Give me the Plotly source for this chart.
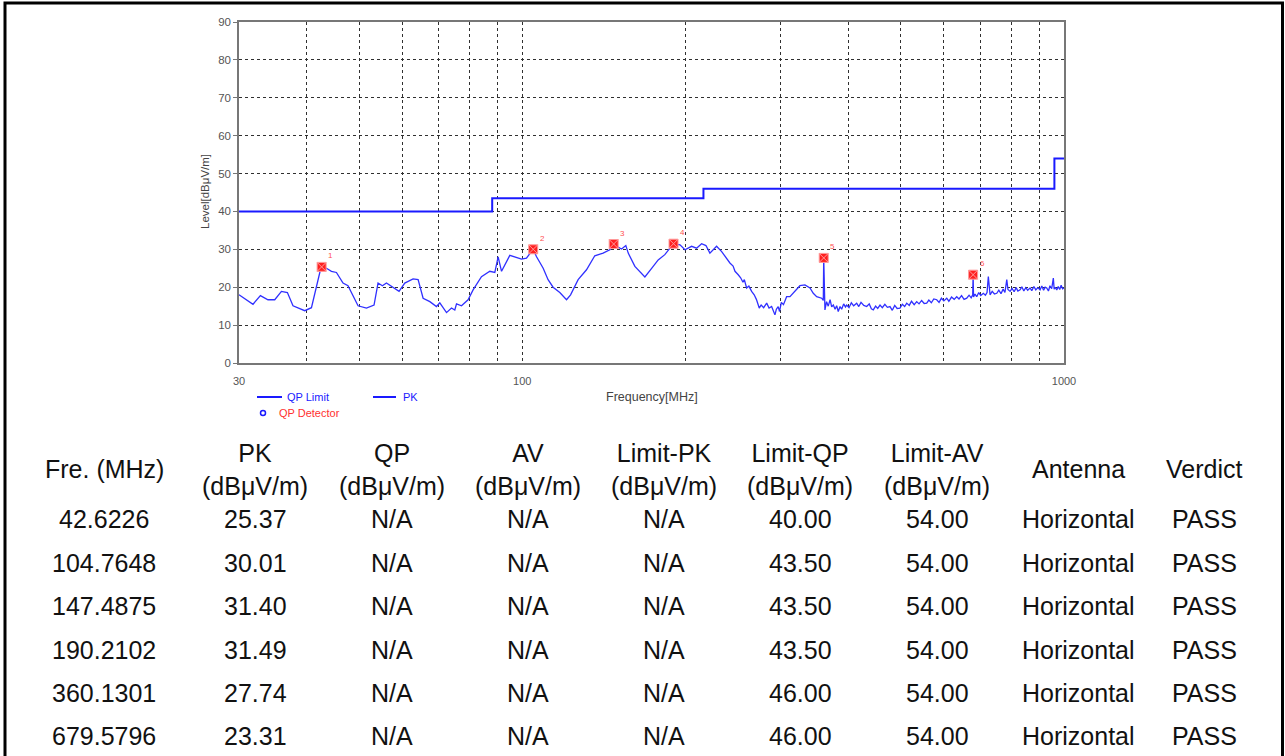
import math
import plotly.graph_objects as go

# ---------------- data ----------------
limit_freq = [30, 88, 216, 960, 1000]
limit_level = [40.0, 43.5, 46.0, 54.0, 54.0]

pk_freq = [30.0, 30.96, 31.84, 32.86, 33.93, 34.92, 35.93, 36.85, 37.74, 39.67, 40.82, 42.41, 42.62,
           43.51, 44.44, 45.39, 46.68, 47.68, 49.76, 51.57, 53.26, 54.17, 55.19, 56.14, 57.74, 59.23,
           60.69, 62.87, 64.23, 65.61, 67.51, 69.44, 70.43, 72.47, 74.02, 75.07, 75.62, 77.24, 79.43,
           81.14, 84.08, 87.12, 88.99, 90.25, 91.57, 94.85, 99.68, 101.8, 104.76, 106.2, 109.3, 111.6,
           114.0, 117.3, 120.7, 122.8, 126.8, 131.4, 136.1, 141.0, 145.1, 147.49, 149.3, 152.5, 155.3,
           156.9, 161.4, 164.9, 168.4, 173.3, 178.2, 183.3, 186.5, 190.21, 195.5, 199.7, 205.4, 209.8,
           214.3, 218.3, 222.0, 228.4, 233.4, 241.7, 245.0, 247.0, 250.4, 253.0, 255.5, 257.0, 259.5,
           262.0, 265.1, 268.0, 270.5, 273.8, 276.0, 279.0, 282.6, 285.5, 288.6, 290.5, 292.7, 294.5,
           296.8, 298.5, 300.8, 303.5, 307.6, 312.0, 318.7, 325.5, 332.5, 339.7, 344.5, 349.5, 357.0,
           359.5, 360.13, 360.8, 362.0, 364.5, 367.1, 370.0, 372.5, 375.1, 378.0, 380.5, 383.1, 386.0,
           388.7, 392.0, 395.0, 397.1, 401.0, 405.0, 409.0, 414.3, 418.0, 422.0, 427.0, 432.3, 437.0,
           441.0, 444.6, 449.0, 453.0, 457.5, 462.0, 467.0, 472.0, 477.3, 482.0, 487.0, 492.0, 498.0,
           503.0, 508.0, 512.5, 518.0, 523.0, 529.0, 534.7, 540.0, 546.0, 552.0, 557.9, 563.0, 569.0,
           575.0, 582.2, 588.0, 594.0, 600.0, 607.5, 613.0, 620.0, 627.0, 633.8, 640.0, 647.0, 654.0,
           661.4, 668.0, 674.0, 678.4, 679.58, 680.8, 685.0, 690.1, 696.0, 702.0, 709.8, 716.0, 721.0,
           725.0, 728.0, 730.3, 737.0, 744.0, 751.4, 758.0, 765.0, 772.0, 778.0, 784.1, 788.0, 795.2,
           802.0, 809.0, 816.0, 822.0, 829.7, 836.0, 843.0, 850.0, 857.0, 865.7, 872.0, 880.0, 887.0,
           895.0, 903.2, 910.0, 917.0, 923.0, 929.2, 936.0, 942.0, 949.0, 955.7, 959.0, 963.0, 969.7,
           976.0, 982.0, 988.0, 994.0, 1000.0]
pk_level = [18.0, 16.7, 15.5, 17.8, 16.7, 16.7, 18.9, 18.6, 15.1, 13.8, 14.6, 24.6, 25.37,
            25.0, 24.2, 23.9, 21.1, 20.4, 15.1, 14.5, 15.3, 21.1, 20.4, 21.1, 20.0, 18.9,
            21.1, 22.2, 22.0, 17.1, 16.2, 14.9, 15.9, 13.3, 14.5, 14.0, 15.6, 15.1, 16.7,
            19.3, 22.8, 24.2, 23.9, 28.0, 24.2, 28.4, 27.4, 27.7, 30.01, 28.1, 25.0, 22.0,
            20.0, 18.6, 16.7, 18.0, 22.0, 24.6, 28.3, 29.0, 29.9, 31.40, 30.8, 30.1, 31.0,
            29.0, 25.5, 24.2, 22.7, 25.0, 27.2, 28.6, 30.0, 31.49, 31.2, 29.9, 30.8, 30.3,
            31.5, 31.0, 29.0, 30.8, 29.4, 26.4, 25.6, 24.2, 23.3, 22.5, 21.3, 22.0, 19.8,
            20.3, 18.9, 18.0, 16.8, 14.5, 15.3, 14.6, 15.8, 14.5, 14.9, 13.8, 12.7, 14.2,
            14.9, 13.6, 16.0, 15.4, 17.5, 17.5, 18.9, 20.4, 20.6, 19.8, 18.4, 17.5, 17.1,
            16.5, 27.74, 16.0, 14.0, 16.2, 15.0, 16.7, 14.8, 15.3, 14.2, 15.1, 13.6, 14.9,
            14.2, 15.6, 14.8, 15.3, 14.6, 15.9, 15.1, 15.8, 14.9, 16.0, 15.2, 14.9, 15.6,
            14.3, 14.0, 15.0, 14.4, 15.3, 14.6, 15.5, 14.7, 14.9, 13.9, 15.2, 14.4, 14.5,
            15.5, 14.9, 15.8, 15.2, 16.3, 15.4, 16.2, 15.6, 16.5, 15.7, 15.8, 16.6, 15.9,
            16.9, 16.7, 16.0, 17.1, 16.4, 17.1, 16.3, 17.4, 16.8, 17.5, 16.9, 17.8, 16.8,
            17.1, 17.9, 17.2, 18.0, 23.31, 17.4, 18.2, 17.5, 18.6, 17.8, 18.4, 17.9, 18.6,
            22.8, 18.5, 18.0, 18.9, 18.2, 18.4, 19.2, 18.3, 19.5, 18.6, 22.0, 19.4, 18.9,
            19.7, 18.8, 19.9, 19.0, 19.3, 20.1, 19.0, 19.9, 19.2, 19.8, 19.1, 20.2, 19.3,
            19.9, 19.3, 20.3, 19.2, 20.0, 19.8, 19.0, 20.4, 19.6, 22.4, 19.5, 20.0, 19.3,
            20.2, 19.4, 20.5, 19.6, 19.8]

mk_freq = [42.6226, 104.7648, 147.4875, 190.2102, 360.1301, 679.5796]
mk_level = [25.37, 30.01, 31.40, 31.49, 27.74, 23.31]
mk_labels = ["1", "2", "3", "4", "5", "6"]

x_tickvals = [30, 40, 50, 60, 70, 80, 90, 100, 200, 300, 400, 500, 600, 700, 800, 900, 1000]
x_ticktext = ["30", "", "", "", "", "", "", "100", "", "", "", "", "", "", "", "", "1000"]

table_header = ["Fre. (MHz)", "PK<br>(dBμV/m)", "QP<br>(dBμV/m)", "AV<br>(dBμV/m)",
                "Limit-PK<br>(dBμV/m)", "Limit-QP<br>(dBμV/m)", "Limit-AV<br>(dBμV/m)",
                "Antenna", "Verdict"]
col_freq = ["42.6226", "104.7648", "147.4875", "190.2102", "360.1301", "679.5796"]
col_pk = ["25.37", "30.01", "31.40", "31.49", "27.74", "23.31"]
col_qp = ["N/A"] * 6
col_av = ["N/A"] * 6
col_lim_pk = ["N/A"] * 6
col_lim_qp = ["40.00", "43.50", "43.50", "43.50", "46.00", "46.00"]
col_lim_av = ["54.00"] * 6
col_antenna = ["Horizontal"] * 6
col_verdict = ["PASS"] * 6
table_columns = [col_freq, col_pk, col_qp, col_av, col_lim_pk, col_lim_qp, col_lim_av,
                 col_antenna, col_verdict]

# ---------------- layout geometry (pixels) ----------------
W, H = 1285, 756
PL, PR, PT, PB = 239, 1064, 22, 363


def px(x):
    return (x - PL) / (PR - PL)


def py(y):
    return (PB - y) / (PB - PT)


FONT = "Liberation Sans"
fig = go.Figure()

fig.add_trace(go.Scatter(x=limit_freq, y=limit_level, mode="lines", line_shape="hv",
                         line=dict(color="#1a1aff", width=2), showlegend=False))
fig.add_trace(go.Scatter(x=pk_freq, y=pk_level, mode="lines",
                         line=dict(color="#3030ff", width=1.3), showlegend=False))
fig.add_trace(go.Scatter(x=mk_freq, y=mk_level, mode="markers",
                         marker=dict(symbol="square-x", size=9, color="#ff2020",
                                     line=dict(color="#ff9a9a", width=1)),
                         showlegend=False))

annotations = []
for f, v, t in zip(mk_freq, mk_level, mk_labels):
    # annotation x on a log axis is given in log10 units
    annotations.append(dict(x=math.log10(f), y=v, xref="x", yref="y", text=t, showarrow=False,
                            xanchor="center", yanchor="middle",
                            xshift=9, yshift=11, font=dict(size=8, color="#ff5050", family=FONT)))

# axis titles
annotations.append(dict(x=px(652), y=py(397), xref="paper", yref="paper", text="Frequency[MHz]",
                        xanchor="center", yanchor="middle", showarrow=False,
                        font=dict(size=12.5, color="#444", family=FONT)))
annotations.append(dict(x=px(205), y=py(192), xref="paper", yref="paper", text="Level[dBμV/m]",
                        xanchor="center", yanchor="middle", textangle=-90, showarrow=False,
                        font=dict(size=11.5, color="#444", family=FONT)))

# legend (drawn)
shapes = []
shapes.append(dict(type="line", xref="paper", yref="paper", x0=px(257), x1=px(282),
                   y0=py(397), y1=py(397), line=dict(color="#1a1aff", width=2)))
shapes.append(dict(type="line", xref="paper", yref="paper", x0=px(373), x1=px(396),
                   y0=py(397), y1=py(397), line=dict(color="#1a1aff", width=2)))
shapes.append(dict(type="circle", xref="paper", yref="paper", x0=px(260.5), x1=px(265.5),
                   y0=py(410.5), y1=py(415.5), line=dict(color="#1a1aff", width=1.5)))
annotations.append(dict(x=px(285), y=py(397), xref="paper", yref="paper", text="QP Limit",
                        xanchor="left", yanchor="middle", showarrow=False,
                        font=dict(size=11, color="#1a1aff", family=FONT)))
annotations.append(dict(x=px(401), y=py(397), xref="paper", yref="paper", text="PK",
                        xanchor="left", yanchor="middle", showarrow=False,
                        font=dict(size=11, color="#1a1aff", family=FONT)))
annotations.append(dict(x=px(277), y=py(413), xref="paper", yref="paper", text="QP Detector",
                        xanchor="left", yanchor="middle", showarrow=False,
                        font=dict(size=11, color="#ff3030", family=FONT)))

# table
col_x = [104, 255, 392, 528, 664, 800, 937, 1078, 1204]
header_y = 469
row_y = [519, 563, 606, 650, 693, 736]
tfont = dict(size=25, color="#111", family=FONT)
for cx, head, col in zip(col_x, table_header, table_columns):
    annotations.append(dict(x=px(cx), y=py(header_y), xref="paper", yref="paper", text=head,
                            xanchor="center", yanchor="middle",
                            showarrow=False, font=tfont, align="center"))
    for ry, val in zip(row_y, col):
        annotations.append(dict(x=px(cx), y=py(ry), xref="paper", yref="paper", text=val,
                                xanchor="center", yanchor="middle",
                                showarrow=False, font=tfont))

# outer border
shapes.append(dict(type="rect", xref="paper", yref="paper", x0=px(5), x1=px(1282.5),
                   y0=py(3), y1=py(820), line=dict(color="black", width=3),
                   fillcolor="rgba(0,0,0,0)", layer="above"))

fig.update_layout(
    width=W, height=H,
    margin=dict(l=PL, r=W - PR, t=PT, b=H - PB, pad=0),
    paper_bgcolor="white", plot_bgcolor="white",
    showlegend=False,
    annotations=annotations, shapes=shapes,
    xaxis=dict(type="log", range=[1.4771213, 3.0], tickvals=x_tickvals, ticktext=x_ticktext,
               showgrid=True, gridcolor="#303030", griddash="dot", gridwidth=1,
               showline=True, linecolor="#777", linewidth=1.5, mirror=True, zeroline=False,
               ticks="", tickfont=dict(size=11, color="#555", family=FONT),
               ticklabelstandoff=7),
    yaxis=dict(range=[0, 90], dtick=10, showgrid=True, gridcolor="#303030", griddash="dot",
               gridwidth=1, showline=True, linecolor="#777", linewidth=1.5, mirror=True,
               zeroline=False, ticks="outside", ticklen=4, tickcolor="#777",
               tickfont=dict(size=11.5, color="#555", family=FONT)),
)

fig.write_html("out.html", config={"displayModeBar": False},
               post_script="document.body.style.margin='0px';")
